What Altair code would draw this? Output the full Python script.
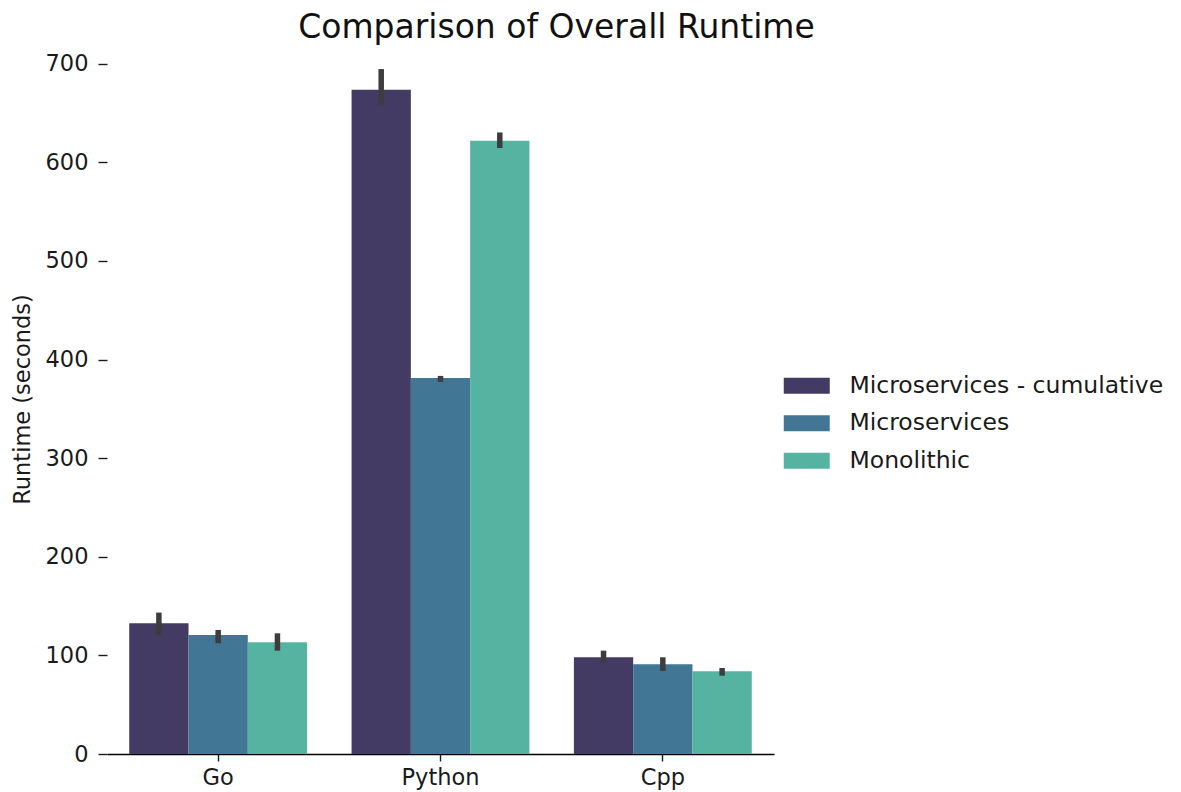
import altair as alt
import pandas as pd

languages = ["Go", "Python", "Cpp"]
types = ["Microservices - cumulative", "Microservices", "Monolithic"]
colors = ["#433b63", "#417694", "#57b3a1"]

mean_cum = [132.6, 673.6, 98.1]
lo_cum = [120.7, 658.4, 92.6]
hi_cum = [143.4, 694.6, 104.8]

mean_micro = [120.7, 381.4, 91.0]
lo_micro = [112.3, 377.3, 84.2]
hi_micro = [125.8, 383.4, 98.1]

mean_mono = [113.3, 621.9, 83.9]
lo_mono = [104.8, 614.5, 79.4]
hi_mono = [122.4, 630.3, 87.2]

rows = []
for t, m, lo, hi in [
    (types[0], mean_cum, lo_cum, hi_cum),
    (types[1], mean_micro, lo_micro, hi_micro),
    (types[2], mean_mono, lo_mono, hi_mono),
]:
    for i, lang in enumerate(languages):
        rows.append({"Language": lang, "Type": t, "Runtime": m[i], "lo": lo[i], "hi": hi[i]})
df = pd.DataFrame(rows)

FONT = "DejaVu Sans"
TXT = "#1a1a1a"

x_enc = alt.X(
    "Language:N",
    sort=languages,
    scale=alt.Scale(paddingInner=0.2, paddingOuter=0.1),
    axis=alt.Axis(
        title=None, labelAngle=0, labelFontSize=22.5, labelFont=FONT, labelColor=TXT,
        domainColor="#000000", domainWidth=1.6, tickColor=TXT, tickSize=7,
        tickWidth=1.4, labelPadding=5,
    ),
)
xoff = alt.XOffset("Type:N", sort=types, scale=alt.Scale(paddingInner=0, paddingOuter=0))

y_scale = alt.Scale(domain=[0, 720], nice=False)

bars = alt.Chart(df).mark_bar().encode(
    x=x_enc,
    xOffset=xoff,
    y=alt.Y(
        "Runtime:Q",
        scale=y_scale,
        axis=alt.Axis(
            title="Runtime (seconds)", titleFont=FONT, titleFontSize=22.5, titleFontWeight="normal",
            titleColor=TXT, titlePadding=11,
            values=[0, 100, 200, 300, 400, 500, 600, 700], domain=False, grid=False,
            labelFontSize=22.5, labelFont=FONT, labelColor=TXT,
            tickColor=TXT, tickSize=9, tickWidth=1.4, labelPadding=10,
        ),
    ),
    color=alt.Color(
        "Type:N",
        sort=types,
        scale=alt.Scale(domain=types, range=colors),
        legend=alt.Legend(
            title=None, orient="none", legendX=688, legendY=330,
            symbolType="M-2,-0.7H2V0.7H-2Z", symbolSize=529, symbolStrokeWidth=0,
            symbolOpacity=1, labelFontSize=23.5, labelFont=FONT, labelColor=TXT,
            labelOffset=31, rowPadding=12.5, padding=0, labelLimit=0,
        ),
    ),
)

errs = alt.Chart(df).mark_rule(color="#3d3d3d", strokeWidth=5.5).encode(
    x=alt.X("Language:N", sort=languages),
    xOffset=alt.XOffset("Type:N", sort=types),
    y=alt.Y("lo:Q", scale=y_scale),
    y2="hi:Q",
)

chart = (
    alt.layer(bars, errs)
    .properties(
        width=667,
        height=710,
        title=alt.TitleParams(
            "Comparison of Overall Runtime", font=FONT, fontSize=33, fontWeight="normal",
            color="#111111", anchor="middle", dx=116, offset=0, dy=1,
        ),
        padding={"left": 99, "top": 36, "right": 399, "bottom": 40},
        autosize=alt.AutoSizeParams(type="none"),
    )
    .configure_view(stroke=None)
)

chart.save("out.html", embed_options={"renderer": "svg", "actions": False})
